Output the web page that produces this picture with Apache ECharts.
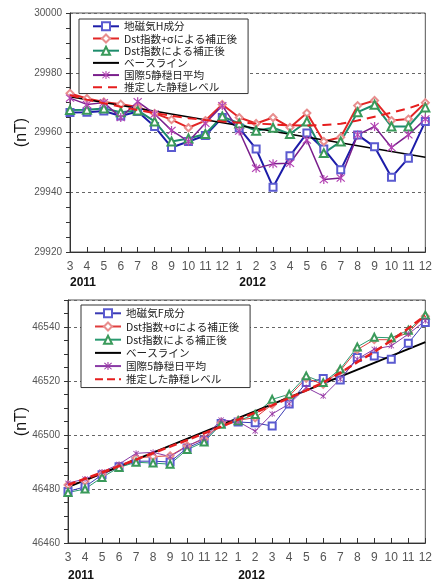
<!DOCTYPE html>
<html>
<head>
<meta charset="utf-8">
<script src="https://cdn.jsdelivr.net/npm/echarts@6/dist/echarts.min.js"></script>
<style>
  html, body { margin: 0; padding: 0; background: #fff; }
  #chartH { position: absolute; left: 0; top: 0; width: 435px; height: 290px; }
  #chartF { position: absolute; left: 0; top: 290px; width: 435px; height: 296px; }
</style>
</head>
<body>
<div id="chartH"></div>
<div id="chartF"></div>
<script>
// Months from March 2011 to December 2012
const months = [
  '2011-3', '2011-4', '2011-5', '2011-6', '2011-7', '2011-8', '2011-9', '2011-10', '2011-11', '2011-12',
  '2012-1', '2012-2', '2012-3', '2012-4', '2012-5', '2012-6', '2012-7', '2012-8', '2012-9', '2012-10', '2012-11', '2012-12'
];
const yearLabels = [
  { text: '2011', month: '2011-3' },
  { text: '2012', month: '2012-1' }
];
const unitLabel = '(nT)';

// Series names
const namesH = ['地磁気H成分', 'Dst指数+σによる補正後', 'Dst指数による補正後', 'ベースライン', '国際5静穏日平均', '推定した静穏レベル'];
const namesF = ['地磁気F成分', 'Dst指数+σによる補正後', 'Dst指数による補正後', 'ベースライン', '国際5静穏日平均', '推定した静穏レベル'];

// Horizontal intensity H (nT)
const hObserved = [29966.7, 29966.8, 29967.2, 29965.5, 29967.0, 29962.0, 29955.0, 29957.0, 29959.0, 29965.0, 29961.5,
  29954.5, 29941.7, 29952.2, 29959.8, 29954.5, 29947.5, 29959.2, 29955.2, 29945.0, 29951.4, 29963.7];
const hDstSigma = [29973.1, 29971.4, 29970.2, 29969.5, 29968.5, 29966.4, 29964.3, 29961.6, 29964.0, 29969.4, 29965.0,
  29963.0, 29965.0, 29961.7, 29966.5, 29957.0, 29958.4, 29969.0, 29970.7, 29964.0, 29964.5, 29970.0];
const hDst = [29967.5, 29967.6, 29968.0, 29966.8, 29967.4, 29963.7, 29957.0, 29958.0, 29959.5, 29965.4, 29963.0,
  29960.6, 29961.6, 29959.5, 29963.7, 29953.1, 29957.0, 29966.8, 29969.3, 29962.0, 29962.0, 29968.4];
const hBaseline = [29972.0, null, null, null, null, null, null, null, null, null, null,
  null, null, null, null, null, null, null, null, null, null, 29951.7];
const hQuietDays = [29971.5, 29969.4, 29970.0, 29965.0, 29970.3, 29966.2, 29960.7, 29957.0, 29963.1, 29969.0, 29960.5,
  29948.0, 29949.5, 29949.7, 29957.5, 29944.3, 29944.8, 29959.2, 29962.0, 29955.0, 29959.2, 29964.5];
const hQuietLevel = [29972.5, 29971.0, 29969.8, 29968.6, 29967.5, 29966.5, 29965.6, 29964.8, 29964.2, 29963.7, 29963.3,
  29963.0, 29962.7, 29962.4, 29962.3, 29962.5, 29962.9, 29964.0, 29965.3, 29966.6, 29968.1, 29970.0];

// Total intensity F (nT)
const fObserved = [46479.1, 46480.8, 46485.3, 46488.2, 46490.3, 46490.3, 46490.0, 46495.2, 46498.0, 46504.3, 46504.8,
  46504.5, 46503.3, 46511.5, 46519.4, 46520.9, 46520.4, 46528.7, 46529.3, 46528.1, 46534.0, 46541.7];
const fDstSigma = [46481.5, 46483.0, 46485.5, 46488.2, 46491.5, 46492.0, 46492.3, 46496.0, 46498.5, 46504.5, 46505.5,
  46506.4, 46511.3, 46514.4, 46521.0, 46518.8, 46523.8, 46531.6, 46535.3, 46535.3, 46538.0, 46544.0];
const fDst = [46478.7, 46480.0, 46484.3, 46488.0, 46489.9, 46489.6, 46489.2, 46494.6, 46497.4, 46504.0, 46505.3,
  46507.6, 46513.2, 46515.1, 46521.9, 46519.4, 46524.4, 46532.6, 46536.2, 46536.0, 46538.8, 46544.4];
const fBaseline = [46480.7, null, null, null, null, null, null, null, null, null, null,
  null, null, null, null, null, null, null, null, null, null, 46534.4];
const fQuietDays = [46482.2, 46483.7, 46486.3, 46489.2, 46493.2, 46493.6, 46492.0, 46495.8, 46498.9, 46505.6, 46505.0,
  46501.4, 46507.8, 46511.5, 46517.6, 46514.4, 46520.7, 46528.1, 46531.8, 46533.0, 46537.4, 46542.3];
const fQuietLevel = [46481.5, 46483.8, 46486.1, 46488.5, 46490.9, 46493.3, 46495.7, 46498.1, 46500.6, 46503.1, 46505.7,
  46508.3, 46511.0, 46513.7, 46516.5, 46519.4, 46523.0, 46527.0, 46530.8, 46535.0, 46539.5, 46544.2];

// Asterisk marker: a vertical bar crossed by two diagonals
const starPath = 'path://M-0.6,-5L0.6,-5L0.6,5L-0.6,5Z' +
  'M-3.58,-4.42L4.42,3.58L3.58,4.42L-4.42,-3.58Z' +
  'M-4.42,3.58L3.58,-4.42L4.42,-3.58L-3.58,4.42Z';

const numFont = '"Liberation Sans", Arial, sans-serif';
const jpFont = '"Noto Sans CJK JP", sans-serif';

function lineSeries(name, data, st) {
  return {
    name: name,
    type: 'line',
    data: data,
    symbol: st.symbol || 'none',
    symbolSize: st.size || 7,
    showSymbol: !!st.symbol,
    connectNulls: true,
    lineStyle: { color: st.line, width: st.width, type: st.dash || 'solid' },
    itemStyle: { color: st.marker || st.line, borderWidth: 1 },
    emphasis: { disabled: true },
    z: st.z || 2
  };
}

// Legend entries: plain lines keep their stroke but hide the marker
function legendData(names, series) {
  return names.map((n, i) => {
    const s = series[i];
    return s.symbol === 'none' ? { name: n, itemStyle: { opacity: 0 } } : { name: n };
  });
}

function buildOption(cfg) {
  return {
    animation: false,
    backgroundColor: '#fff',
    grid: {
      left: cfg.grid.left, top: cfg.grid.top, width: cfg.grid.width, height: cfg.grid.height,
      show: true, borderColor: '#555', borderWidth: 1, backgroundColor: 'transparent'
    },
    legend: {
      orient: 'vertical',
      left: cfg.legend.left, top: cfg.legend.top,
      padding: cfg.legend.padding,
      itemGap: cfg.legend.gap,
      itemWidth: 26, itemHeight: 10,
      borderColor: '#333', borderWidth: 1, borderRadius: 0,
      backgroundColor: '#fff',
      selectedMode: false,
      textStyle: { fontSize: 10.6, fontFamily: jpFont, color: '#222' },
      data: legendData(cfg.names, cfg.series)
    },
    xAxis: {
      type: 'category',
      data: months,
      boundaryGap: false,
      axisLine: { lineStyle: { color: '#333', width: 1 } },
      axisTick: { inside: true, length: 5, interval: 0, lineStyle: { color: '#333' } },
      axisLabel: {
        interval: 0, margin: 9, color: '#555', fontSize: 12, fontFamily: numFont,
        formatter: v => v.split('-')[1]
      },
      splitLine: { show: false }
    },
    yAxis: [{
      type: 'value',
      min: cfg.min, max: cfg.max, interval: 5,
      axisLine: { show: true, lineStyle: { color: '#333' } },
      axisTick: { show: true, length: 4, lineStyle: { color: '#333' } },
      axisLabel: {
        margin: 8, color: '#555', fontSize: 10, fontFamily: numFont,
        formatter: v => ((v - cfg.min) % 20 === 0 && v <= cfg.labelMax) ? String(v) : ''
      },
      splitLine: { show: false }
    }, {
      // carries only the dotted grid lines at every 20 nT
      type: 'value',
      position: 'left',
      min: cfg.min, max: cfg.max, interval: 20,
      axisLine: { show: false }, axisTick: { show: false }, axisLabel: { show: false },
      splitLine: { show: true, lineStyle: { color: '#666', width: 1, type: [3, 3] } }
    }],
    series: cfg.series
  };
}

// Year captions under the month labels and the rotated unit caption
function addCaptions(chart, yearTop, unitX) {
  const graphics = yearLabels.map(y => {
    const x = chart.convertToPixel({ xAxisIndex: 0 }, y.month);
    return {
      type: 'text', left: x, top: yearTop, silent: true,
      style: { text: y.text, font: 'bold 12px ' + numFont, fill: '#111' }
    };
  });
  const grid = chart.getModel().getComponent('grid', 0).coordinateSystem.getRect();
  graphics.push({
    type: 'text', x: unitX, y: grid.y + grid.height / 2, rotation: Math.PI / 2, silent: true,
    style: { text: unitLabel, font: '16px ' + numFont, fill: '#111', align: 'center', verticalAlign: 'middle' }
  });
  chart.setOption({ graphic: graphics });
}

// H component chart
const seriesH = [
  lineSeries(namesH[0], hObserved, { line: '#1c1ca8', marker: '#5a5ad0', symbol: 'emptyRect', size: 7, width: 2 }),
  lineSeries(namesH[1], hDstSigma, { line: '#e22626', marker: '#e88e8e', symbol: 'emptyDiamond', size: 7, width: 2 }),
  lineSeries(namesH[2], hDst, { line: '#1d8c6c', marker: '#3a9a5a', symbol: 'emptyTriangle', size: 8, width: 2 }),
  lineSeries(namesH[3], hBaseline, { line: '#000', width: 1.5 }),
  lineSeries(namesH[4], hQuietDays, { line: '#7a1f8c', marker: '#b444b4', symbol: starPath, size: 9, width: 1.5 }),
  lineSeries(namesH[5], hQuietLevel, { line: '#e61e1e', width: 2, dash: [9, 6], z: 3 })
];
const chartH = echarts.init(document.getElementById('chartH'), null, { renderer: 'canvas' });
chartH.setOption(buildOption({
  grid: { left: 70, top: 13, width: 358, height: 239 },
  legend: { left: 79, top: 19, padding: [2, 11, 1, 13], gap: 1.6 },
  names: namesH,
  min: 29920, max: 30000, labelMax: 30000,
  series: seriesH
}));
addCaptions(chartH, 277, 22);

// F component chart
const seriesF = [
  lineSeries(namesF[0], fObserved, { line: '#3a3ab4', marker: '#5a5ad0', symbol: 'emptyRect', size: 7, width: 1 }),
  lineSeries(namesF[1], fDstSigma, { line: '#e03c3c', marker: '#e88e8e', symbol: 'emptyDiamond', size: 7, width: 1 }),
  lineSeries(namesF[2], fDst, { line: '#2a9a70', marker: '#3a9a5a', symbol: 'emptyTriangle', size: 7, width: 1 }),
  lineSeries(namesF[3], fBaseline, { line: '#000', width: 2 }),
  lineSeries(namesF[4], fQuietDays, { line: '#8a3aa6', marker: '#9a3aa6', symbol: starPath, size: 6, width: 1 }),
  lineSeries(namesF[5], fQuietLevel, { line: '#e61e1e', width: 2.5, dash: [8, 4], z: 3 })
];
const chartF = echarts.init(document.getElementById('chartF'), null, { renderer: 'canvas' });
chartF.setOption(buildOption({
  grid: { left: 68, top: 10, width: 360, height: 243 },
  legend: { left: 81, top: 15, padding: [3, 11, 3, 13], gap: 2.6 },
  names: namesF,
  min: 46460, max: 46550, labelMax: 46540,
  series: seriesF
}));
addCaptions(chartF, 280, 22);
</script>
</body>
</html>
